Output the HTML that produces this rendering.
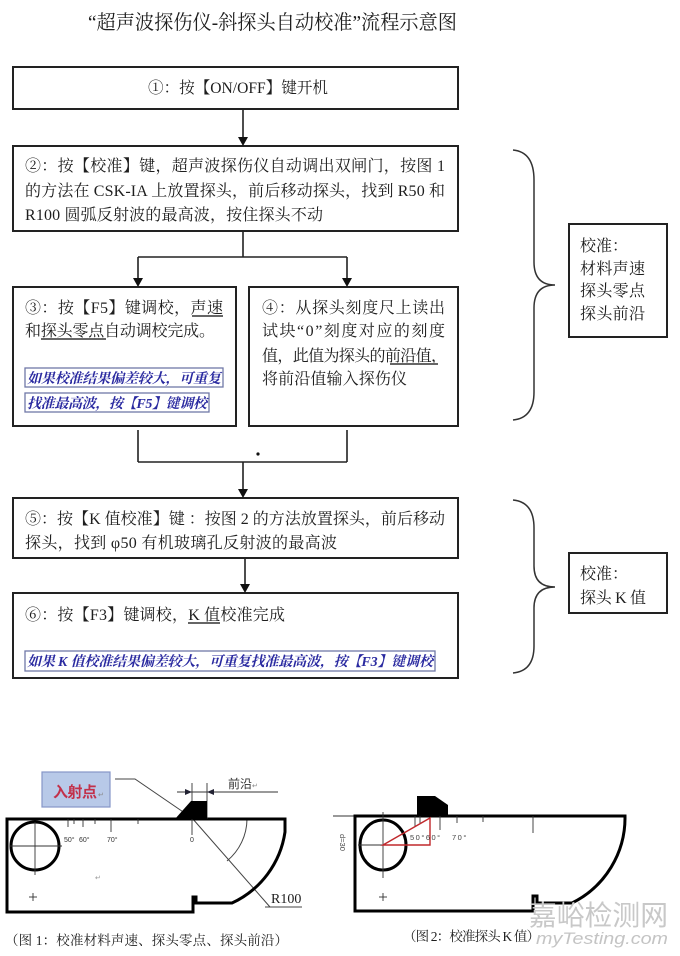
<!DOCTYPE html>
<html>
<head>
<meta charset="utf-8">
<style>
  html,body{margin:0;padding:0;background:#fff;}
  svg{display:block;}
  .t{font-family:"Liberation Serif","Noto Serif CJK SC",serif;fill:#1e1e1e;}
  .b{font-family:"Liberation Serif","Noto Serif CJK SC",serif;fill:#2a2aa0;font-weight:bold;font-style:italic;}
  .s{font-family:"Liberation Sans","Noto Sans CJK SC",sans-serif;}
</style>
</head>
<body>
<svg width="680" height="956" viewBox="0 0 680 956" xmlns="http://www.w3.org/2000/svg">
  <rect x="0" y="0" width="680" height="956" fill="#fff"/>

  <!-- Title -->
  <text class="t" x="88" y="29" font-size="20" textLength="369" lengthAdjust="spacingAndGlyphs">“超声波探伤仪-斜探头自动校准”流程示意图</text>

  <!-- Flow boxes -->
  <g fill="#fff" stroke="#222" stroke-width="2">
    <rect x="13" y="67" width="445" height="42"/>
    <rect x="13" y="146" width="445" height="85"/>
    <rect x="13" y="287" width="223" height="139"/>
    <rect x="249" y="287" width="209" height="139"/>
    <rect x="13" y="498" width="445" height="60"/>
    <rect x="13" y="593" width="445" height="85"/>
    <rect x="569" y="224" width="98" height="113"/>
    <rect x="569" y="553" width="98" height="60"/>
  </g>

  <!-- Connectors -->
  <g stroke="#222" stroke-width="1.6" fill="none">
    <line x1="243" y1="109" x2="243" y2="139"/>
    <line x1="243" y1="231" x2="243" y2="257"/>
    <line x1="138" y1="257" x2="347" y2="257"/>
    <line x1="138" y1="257" x2="138" y2="280"/>
    <line x1="347" y1="257" x2="347" y2="280"/>
    <line x1="138" y1="430" x2="138" y2="462"/>
    <line x1="347" y1="430" x2="347" y2="462"/>
    <line x1="138" y1="462" x2="347" y2="462"/>
    <line x1="243" y1="462" x2="243" y2="491"/>
    <line x1="245" y1="558" x2="245" y2="586"/>
  </g>
  <g fill="#111">
    <polygon points="238,137 248,137 243,146"/>
    <polygon points="133,278 143,278 138,287"/>
    <polygon points="342,278 352,278 347,287"/>
    <polygon points="238,489 248,489 243,498"/>
    <polygon points="240,584 250,584 245,593"/>
    <circle cx="258" cy="454" r="1.6"/>
  </g>

  <!-- Box 1 -->
  <text class="t" x="148" y="93" font-size="16" textLength="180" lengthAdjust="spacingAndGlyphs">①：按【ON/OFF】键开机</text>

  <!-- Box 2 -->
  <text class="t" x="25" y="171" font-size="16" textLength="420" lengthAdjust="spacing">②：按【校准】键，超声波探伤仪自动调出双闸门，按图 1</text>
  <text class="t" x="25" y="196" font-size="16" textLength="420" lengthAdjust="spacing">的方法在 CSK-IA 上放置探头，前后移动探头，找到 R50 和</text>
  <text class="t" x="25" y="220" font-size="16" textLength="298" lengthAdjust="spacing">R100 圆弧反射波的最高波，按住探头不动</text>

  <!-- Box 3 -->
  <text class="t" x="25" y="313" font-size="16" textLength="198" lengthAdjust="spacing">③：按【F5】键调校，声速</text>
  <text class="t" x="25" y="336" font-size="16" textLength="190" lengthAdjust="spacing">和探头零点自动调校完成。</text>
  <g stroke="#666" stroke-width="2">
    <line x1="192" y1="316" x2="223" y2="316"/>
    <line x1="41" y1="339" x2="106" y2="339"/>
  </g>
  <g fill="#fff" stroke="#7078a8" stroke-width="1.3">
    <rect x="25" y="368" width="198" height="19"/>
    <rect x="25" y="393" width="184" height="19"/>
    <rect x="25" y="651" width="410" height="20"/>
  </g>
  <text class="b" x="27" y="383" font-size="14" textLength="194" lengthAdjust="spacing">如果校准结果偏差较大，可重复</text>
  <text class="b" x="27" y="408" font-size="14" textLength="180" lengthAdjust="spacing">找准最高波，按【F5】键调校</text>

  <!-- Box 4 -->
  <text class="t" x="262" y="313" font-size="16" textLength="183" lengthAdjust="spacing">④：从探头刻度尺上读出</text>
  <text class="t" x="262" y="336" font-size="16" textLength="183" lengthAdjust="spacing">试块“0”刻度对应的刻度</text>
  <text class="t" x="262" y="361" font-size="16" textLength="185" lengthAdjust="spacing">值，此值为探头的前沿值，</text>
  <text class="t" x="262" y="384" font-size="16" textLength="145" lengthAdjust="spacing">将前沿值输入探伤仪</text>
  <line x1="390" y1="364" x2="438" y2="364" stroke="#666" stroke-width="2"/>

  <!-- Box 5 -->
  <text class="t" x="25" y="524" font-size="16" textLength="420" lengthAdjust="spacing">⑤：按【K 值校准】键 ：按图 2 的方法放置探头，前后移动</text>
  <text class="t" x="25" y="548" font-size="16" textLength="312" lengthAdjust="spacing">探头，找到 φ50 有机玻璃孔反射波的最高波</text>

  <!-- Box 6 -->
  <text class="t" x="25" y="620" font-size="16" textLength="260" lengthAdjust="spacing">⑥：按【F3】键调校，K 值校准完成</text>
  <line x1="188" y1="623" x2="220" y2="623" stroke="#666" stroke-width="2"/>
  <text class="b" x="27" y="666" font-size="14" textLength="406" lengthAdjust="spacing">如果 K 值校准结果偏差较大，可重复找准最高波，按【F3】键调校</text>

  <!-- Braces -->
  <g stroke="#333" stroke-width="1.5" fill="none">
    <path d="M513,150 Q534,152 534,180 L534,262 Q534,285 555,285 Q534,285 534,308 L534,392 Q534,418 513,420"/>
    <path d="M513,500 Q534,502 534,528 L534,566 Q534,587 555,587 Q534,587 534,608 L534,646 Q534,671 513,673"/>
  </g>

  <!-- Side boxes text -->
  <g class="t" font-size="16">
    <text x="580" y="251">校准：</text>
    <text x="580" y="274" textLength="65" lengthAdjust="spacing">材料声速</text>
    <text x="580" y="296" textLength="65" lengthAdjust="spacing">探头零点</text>
    <text x="580" y="319" textLength="65" lengthAdjust="spacing">探头前沿</text>
    <text x="580" y="579">校准：</text>
    <text x="580" y="603" textLength="66" lengthAdjust="spacing">探头 K 值</text>
  </g>

  <!-- ============ Figure 1 ============ -->
  <!-- 入射点 label -->
  <rect x="42" y="772" width="68" height="35" fill="#b8c9e8" stroke="#8596c8" stroke-width="1.2"/>
  <text class="s" x="53" y="797" font-size="15" font-weight="bold" fill="#c2304a" textLength="44" lengthAdjust="spacing">入射点</text>
  <text class="s" x="98" y="797" font-size="7" fill="#888">↵</text>
  <!-- leader + beam -->
  <g stroke="#444" stroke-width="1" fill="none">
    <polyline points="115,779 135,779 192,818"/>
    <line x1="192" y1="818" x2="270" y2="907"/>
    <line x1="265" y1="907" x2="302" y2="907"/>
    <path d="M247,819 A55,55 0 0 1 227,861"/>
  </g>
  <!-- block -->
  <g stroke="#000" stroke-width="3" fill="none" stroke-linejoin="miter">
    <path d="M7,819 L285,819 L285,832 A93,93 0 0 1 232,903 L196,903 L196,897 L193,897 L193,912 L7,912 Z"/>
    <circle cx="35" cy="846" r="24"/>
  </g>
  <g stroke="#333" stroke-width="0.9">
    <line x1="10" y1="846" x2="62" y2="846"/>
    <line x1="35" y1="822" x2="35" y2="875"/>
    <line x1="68" y1="819" x2="68" y2="827"/>
    <line x1="74" y1="819" x2="74" y2="824"/>
    <line x1="83" y1="819" x2="83" y2="827"/>
    <line x1="95" y1="819" x2="95" y2="824"/>
    <line x1="111" y1="819" x2="111" y2="832"/>
    <line x1="138" y1="819" x2="138" y2="824"/>
    <line x1="192" y1="783" x2="192" y2="835"/>
    <line x1="207" y1="783" x2="207" y2="819"/>
    <line x1="177" y1="792" x2="278" y2="792"/>
    <line x1="29" y1="897" x2="37" y2="897"/>
    <line x1="33" y1="893" x2="33" y2="901"/>
  </g>
  <g fill="#223">
    <polygon points="185,789 192,792 185,795"/>
    <polygon points="214,789 207,792 214,795"/>
  </g>
  <!-- probe -->
  <polygon points="175,819 191,801 207,801 207,819" fill="#000"/>
  <g class="s" font-size="7" fill="#333">
    <text x="64" y="842">50°</text>
    <text x="79" y="842">60°</text>
    <text x="107" y="842">70°</text>
    <text x="190" y="842">0</text>
    <text x="95" y="880" fill="#999">↵</text>
  </g>
  <text class="s" x="228" y="788" font-size="12" fill="#333">前沿</text>
  <text class="s" x="252" y="788" font-size="7" fill="#888">↵</text>
  <text class="t" x="271" y="903" font-size="14">R100</text>
  <text class="t" x="5" y="945" font-size="13.5" textLength="283" lengthAdjust="spacing">（图 1：校准材料声速、探头零点、探头前沿）</text>

  <!-- ============ Figure 2 ============ -->
  <line x1="333" y1="816" x2="356" y2="816" stroke="#333" stroke-width="1"/>
  <g stroke="#000" stroke-width="3" fill="none">
    <path d="M355,816 L625,816 A95,95 0 0 1 572,903 L537,903 L537,896 L533,896 L533,911 L355,911 Z"/>
    <ellipse cx="383" cy="845" rx="23" ry="25"/>
  </g>
  <polygon points="417,796 435,796 448,805 448,816 417,816" fill="#000"/>
  <g stroke="#333" stroke-width="0.9">
    <line x1="358" y1="845" x2="408" y2="845"/>
    <line x1="383" y1="812" x2="383" y2="878"/>
    <line x1="415" y1="816" x2="415" y2="826"/>
    <line x1="420" y1="816" x2="420" y2="823"/>
    <line x1="440" y1="816" x2="440" y2="830"/>
    <line x1="457" y1="816" x2="457" y2="823"/>
    <line x1="483" y1="816" x2="483" y2="822"/>
    <line x1="533" y1="816" x2="533" y2="833"/>
    <line x1="379" y1="897" x2="387" y2="897"/>
    <line x1="383" y1="893" x2="383" y2="901"/>
  </g>
  <polygon points="383,845 430,818 430,845" fill="none" stroke="#c0282c" stroke-width="1.4"/>
  <g class="s" font-size="7.5" fill="#444" letter-spacing="1.5">
    <text x="410" y="840">50°60°</text>
    <text x="452" y="840">70°</text>
  </g>
  <text class="s" font-size="7.5" fill="#444" transform="translate(340,834) rotate(90)">d=30</text>
  <text class="t" x="403" y="941" font-size="13.5" textLength="137" lengthAdjust="spacing">（图 2：校准探头 K 值）</text>

  <!-- watermark -->
  <text class="s" x="529" y="925" font-size="28" fill="#c8c8c8" textLength="139" lengthAdjust="spacingAndGlyphs">嘉峪检测网</text>
  <text class="s" x="536" y="944" font-size="17" font-style="italic" fill="#c4c4c4" textLength="132" lengthAdjust="spacingAndGlyphs">myTesting.com</text>
</svg>
</body>
</html>
